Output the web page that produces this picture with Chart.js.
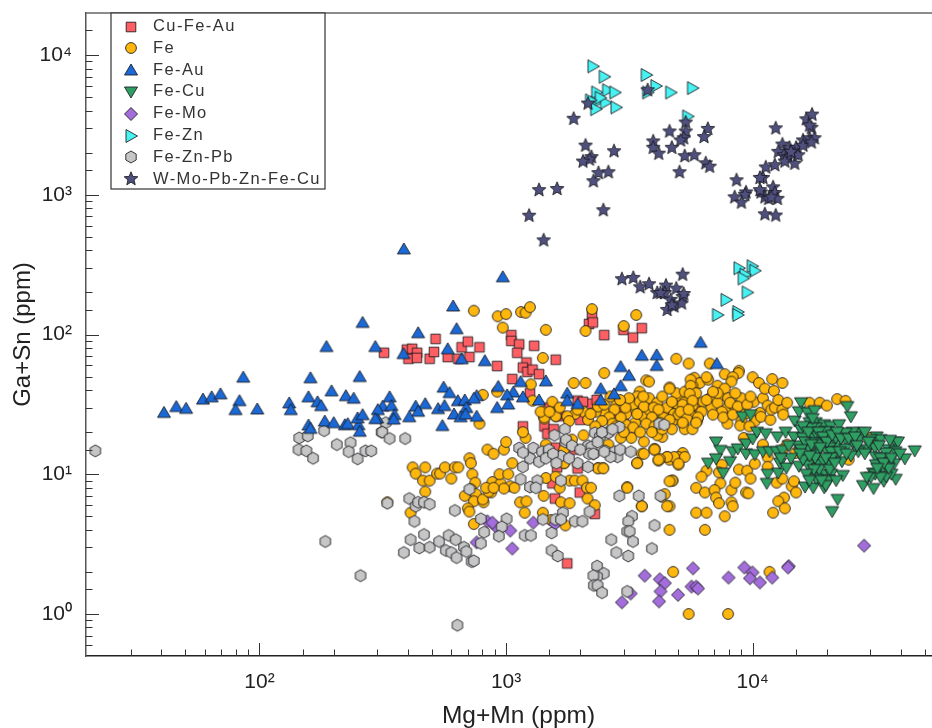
<!DOCTYPE html>
<html>
<head>
<meta charset="utf-8">
<title>Ga+Sn vs Mg+Mn</title>
<script src="https://cdn.jsdelivr.net/npm/chart.js@4"></script>
<style>
html, body { margin: 0; padding: 0; background: #fff; width: 932px; height: 728px; overflow: hidden; }
#wrap { width: 932px; height: 728px; overflow: hidden; }
canvas { display: block; filter: blur(0.3px); }
</style>
</head>
<body>
<div id="wrap"><canvas id="chart" width="956" height="728"></canvas></div>
<script>
// Values, [Mg+Mn, Ga+Sn] in ppm
const cuFeAu = [[320,74],[396,78],[416,79],[436,74],[402,67],[435,68],[490,67],[510,75],[518,93],[580,69],[640,67],[710,69],[660,81],[700,89],[780,81],[920,59.5],[1050,99],[1050,90],[1130,85],[1110,74],[1300,83],[1210,63],[1590,66],[1170,58],[1220,54],[1280,56],[1360,52],[1060,48],[1250,38],[2230,137],[2170,119],[2250,122],[2500,99],[2990,108],[3270,95],[3550,111],[1490,30],[1950,33.6],[2200,32],[2330,34],[2050,33],[1420,27],[1600,27],[1670,26],[1170,22],[1430,22],[1470,19.5],[2000,24.5],[2830,29],[2950,26],[1890,15],[1610,11.2],[1950,11],[1580,15.5],[1540,8.6],[1990,7.4],[1580,6.7],[2290,5.2],[1770,2.3],[1560,21],[2860,27.5],[3000,25.5],[1620,27]];

const fe = [[740,148],[925,135],[1000,140],[1150,145],[1200,143],[1250,157],[970,112],[1450,108],[1410,68],[1260,44],[805,37],[920,39],[780,23],[2230,152],[2100,106],[3370,138],[3000,115],[2500,53],[1880,45],[2100,45],[1540,33],[1280,33.6],[1410,28],[1430,25],[1590,26],
[3700,47],[3800,46],[4600,41.8],[4900,67],[5500,62],[6700,62],[5800,49],[6100,45],[5700,43],[5600,38],[6600,47.5],[3480,39],[3400,36],[3800,35],[4100,32.5],[4730,32.5],[5100,35],[5300,33],[5800,37],[3200,32],[2800,31.5],[2500,28],[3340,29],[3070,27],[3620,25.8],[3970,28],[4350,28.5],[5000,30.5],[5500,29],[6100,28],[6000,25.5],[4800,24.5],[5200,23],[4100,26.7],[4500,27],[4350,25.5],[3920,23.8],[3340,23.4],[3060,22.6],[3280,21.6],[3620,17.1],[3220,18.2],[2915,18.2],[4000,15.2],[4300,18.5],[4100,19],[3550,14],[3400,12],[4150,12.5],[4500,13.3],[4600,12.7],[5000,11.7],[5200,14.2],[5000,13.3],[4730,9],[2360,11.1],[2470,11.1],[3100,8.1],
[2310,28],[2060,28],[1900,27],[1770,26],[1590,26],[1430,25.5],[1380,28],[2150,24.5],[2060,19],[2600,16.3],[1850,17.7],[1720,15],[1200,18.2],[1170,20],[1720,12],[1450,16.3],[2915,25.5],[2750,29],[3280,31.5],[3480,33],[3800,29],[3050,30],[3620,30.5],[2620,25.5],[2360,30.5],[2500,31.5],[3970,30],[4500,30],[4800,27],[5000,26.7],[5600,26.7],[5800,31.5],[5950,24],[5200,31.5],[4600,24.5],[4150,29],[3900,25.5],[4200,23.4],
[2650,36],[3150,35],[3600,36],[4300,36],[4900,38],[5300,39],[2900,34],[3400,27],[3700,23],[4000,22],[4700,21],[5300,21],[5700,21],[2700,23],[2450,24],[2200,27],[1950,29],[1650,30],[1500,28],[1800,24],[2300,22],[2600,20],[2800,22],[3000,20],[3500,20],[3900,20],[4300,21],[5100,28],[5400,25],[5700,31],[6300,33],[6700,35],[7000,36],[7500,37],[7900,30],[8400,31],[9000,35],[9300,27],[10100,33],[11000,35],[11500,31],[10200,24],[9000,24],[7900,23],[6800,30],
[8800,55],[8750,53],[7700,52],[10000,49.5],[10600,45],[12000,48],[13200,45],[11200,41],[12200,39.5],[8300,49.5],[8200,46],[7200,43],[7700,41],[6500,49.5],[5600,47.5],[4600,41],[5600,43],[5900,38],[5550,37.6],[5700,33.6],[4700,33],[5500,29],[6200,28],[6000,25.5],[5900,23.4],[5200,23.4],[6500,34],[7200,32.5],[7950,35],[8500,38],[7200,38],[6900,39],[8100,32.5],[8700,30.5],[7500,28],[6900,26.7],[7600,25.5],[8300,26.7],[8900,22.3],[9700,22],[9500,31.5],[9800,36],[10700,27.5],[10800,25.8],[11800,24.5],[11900,29],[12300,30],[13200,29],[12700,34],[13800,32.5],[13300,26.7],[17000,32.5],[18700,32.5],[20000,31],[22000,34.5],[23800,33.5],
[9200,18.2],[11000,16.3],[13800,16.3],[14900,14.2],[13200,15],[11500,13.2],[11500,11.3],[17800,13.8],[18100,12],[30000,18.2],[24500,12.7],[8800,10.8],[9500,10.6],[10200,11.9],[9800,9.3],[7500,11.7],[6500,10.6],[6200,9.6],[7300,10.3],[5900,8],[6400,7.4],[7400,8.6],[7000,7.7],[7100,6.8],[7300,6.2],[8200,7.7],[8500,8.7],[8200,6.3],[8300,5.9],[9400,7.4],[9600,7.3],[7700,5],[5900,5.3],[6500,5.3],[4720,9],[4600,5.9],[4600,4],[6400,4],[3550,5.9],[4300,6.9],[4000,15],[12500,8.7],[13200,9.3],[14400,8.2],[15000,7.4],[14700,8.9],[13400,6.8],[12700,6.4],[12100,5.3],[13500,5.7],[5300,13.3],[4800,13.3],[5000,11.9],[4500,13.3],[4200,12.9],
[418,11.2],[430,10.1],[470,11.2],[460,9],[490,9],[525,10.1],[540,10.1],[565,11.2],[600,9.3],[620,11.2],[640,11.2],[470,7.5],[410,5.3],[330,6.3],[710,13],[720,12],[840,15],[890,14],[980,15],[1000,17],[1060,12],[730,10],[750,8.7],[680,7],[720,7.8],[755,7.2],[740,6.4],[700,5.7],[710,5.4],[810,6.3],[805,6.6],[870,7.4],[850,7.5],[880,8.8],[950,8.6],[940,10],[1020,10],[1040,8.2],[1080,8],[980,7.9],[830,8],[890,8],[740,4.4],[1140,6.3],[1210,6.4],[1190,5.3],[1420,7],[1410,5.3],[1520,4.7],[1600,4.6],[1740,4.3],[1450,9.4],[1590,9.6],[1650,8],[1670,6.3],[1810,6.2],[1810,9],[1900,9],[2040,9],[2130,8],[2210,8],[2140,6.7],[2290,6],[2360,11],[2480,11],[1720,12],[3400,12],[3100,8],[3550,5.9],[3620,14],[4600,8.9],[4500,5.9],[4400,7.2],[4000,15],[4150,12.7],[4760,2],[5500,1],[7950,1],[11700,2]];

const feAu = [[41,27.7],[46,30.5],[50.4,29.6],[59,34.5],[64,35.8],[69.5,37.6],[86,49.5],[83,33.6],[80,29],[98,29.3],[132,32.4],[134,29],[158,35.8],[161,49],[158,22.5],[161,21.3],[172,33],[178,31],[187,82],[196,39.5],[184,24],[200,23.4],[224,36.5],[241,35],[222,22.6],[228,23],[252,22.6],[255,20.3],[255,50],[262,122],[295,82],[250,25.3],[262,26.7],[300,25.3],[385,410],[970,259],[610,160],[440,103],[630,110],[384,73],[580,79],[660,67],[820,65],[930,42.5],[1145,46],[1450,46.6],[1070,38.8],[1010,37],[1170,35.8],[1020,31.8],[920,30],[337,35.8],[316,30.7],[343,31],[302,29],[295,25],[353,26.7],[350,24.8],[558,42],[590,38.4],[638,33.6],[680,34],[760,36.5],[740,35],[470,32],[430,30.7],[440,28.2],[405,25.8],[530,29.5],[563,31],[690,30],[615,27],[654,25.8],[685,27],[760,26],[552,22.3],[3550,71],[2915,59],[3150,51],[2915,43],[2420,41],[2740,37.6],[2420,34],[1950,32],[1770,38],[1770,33.6],[1360,34],[4080,71.5],[4080,60],[7150,62],[6150,88]];

const feCu = [[7100,17],[7400,14.8],[6600,12],[7100,12.9],[8100,12.3],[8300,14.5],[7600,10.2],[8700,15.2],[9400,14],[9400,16.5],[10000,17.9],[10400,20],[11300,19.5],[10200,13.8],[11000,14.5],[11700,14.5],[12500,14.5],[13200,14.8],[12600,18.5],[13600,20],[11500,10],[11400,8.6],[12700,10.2],[12900,12],[13700,11.1],[14800,24],[15700,32.5],[15400,28],[16700,27.5],[17800,28.5],[24200,30.5],[25000,25.8],[9100,25.8],[9800,26.7],
[14700,18.5],[15700,20.8],[17000,23.4],[18000,23.4],[19500,22.6],[20700,22],[22400,22.6],[20300,20],[17500,18.5],[15200,16],[16000,18.2],[18900,17.7],[20500,18.2],[23800,17.7],[22000,16.3],[17000,15],[18300,15.5],[20500,15.5],[23800,15.2],[16300,13.3],[17400,12.7],[18500,11.9],[20200,11.7],[21800,13.3],[15400,11.4],[16700,11.7],[18200,13.8],[16000,12.7],[18000,9.6],[19400,10],[20800,10],[23200,9.8],[20400,9.1],[16300,8.1],[17600,8],[19500,8],[22100,6.6],[21000,5.4],[18100,9.3],[19800,8.3],
[27400,19.8],[31800,18.5],[25800,16.3],[27000,17.7],[30000,15.8],[33000,17.7],[37800,17],[38800,17],[45400,14.7],[41400,12.9],[29000,15],[26800,14.5],[25000,13.5],[31300,15.5],[35500,15],[37900,14.5],[31500,13.3],[35800,12.3],[37500,11.9],[35300,11.3],[31600,11.7],[33600,10.8],[30800,10.2],[31400,10],[34000,8.9],[38000,9.2],[30100,9.5],[28000,8.3],[30900,7.9],[36500,10],[34800,9.6],
[18000,19.7],[16300,17],[18000,16.8],[20000,14.5],[20800,14.5],[19000,16.3],[17300,16.3],[15700,15],[23000,12.3],[19400,12.3],[17900,13.1],[20900,13.1],[25400,20],[30000,17.7],[34800,14.2],[35600,11],[33000,9.5],[29000,9.5],[18000,21.5],[19700,20.2],[17300,21.5],[21700,18.2],[18600,10.8],[20500,10.8],[17700,10.8],[23800,19.7],
[16000,22],[16800,20],[17500,25],[18500,20],[19300,18.5],[20000,17],[21000,19],[22000,20],[22800,18],[24500,18],[26000,18.5],[28500,20],[29500,17],[17000,13.5],[18800,15.5],[19800,13],[21500,12],[22500,14.5],[24000,14],[15500,14],[14300,13],[14000,16],[13000,13],[16500,10],[17000,9],[19000,9],[21800,9],[26500,16],[28500,14],[33000,13],[34000,12],[36500,13],[32500,16],[39500,14],[36000,17.5],[32000,11]];

const feMo = [[3650,1.88],[4200,1.77],[4400,1.66],[4230,1.45],[4170,1.23],[4980,1.37],[5730,2.12],[5650,1.57],[5900,1.57],[6000,1.52],[2950,1.21],[3200,1.4],[7980,1.82],[9250,2.15],[9980,1.98],[9750,1.8],[10700,1.68],[12000,1.82],[14000,2.2],[13900,2.15],[28300,3.08],[840,4.6],[910,4.2],[1040,3.95],[1290,4.5],[1060,2.94],[760,3.25],[1580,4.4],[880,4.5]];

const feZn = [[2250,8300],[2500,7000],[3700,7200],[4050,6000],[4650,5400],[5700,5800],[2330,5400],[2580,5600],[2760,5400],[2310,4570],[2530,4570],[2310,4100],[2790,4220],[2410,4950],[2200,4740],[3750,5400],[5450,3640],[8800,298],[9950,308],[10200,286],[9300,268],[9150,252],[9500,200],[7800,177],[8700,145],[8700,138],[7200,138]];

const feZnPb = [[21.6,14.7],[145,18.2],[157,18.8],[183,20.5],[144,15],[155,14.7],[165,13],[206,16.3],[234,16.8],[230,14.5],[250,12.9],[269,14.7],[284,14.7],[313,20],[185,3.3],[257,1.88],[325,23.4],[315,20],[337,18],[390,18],[330,6.2],[405,6.7],[430,5.9],[440,6.3],[465,6.3],[490,6.1],[425,4.6],[620,5.5],[465,3.7],[410,3.4],[385,2.75],[445,2.97],[490,3],[535,3.3],[585,3.65],[625,3.4],[570,2.85],[600,2.75],[630,2.53],[675,3],[690,2.8],[725,2.37],[740,2.4],[790,4.8],[815,3.85],[790,3.2],[710,7.8],[1005,4.8],[960,4.2],[935,3.6],[1190,3.65],[1260,3.65],[1530,3.8],[1410,4.75],[1585,4.75],[1700,5.3],[1670,4.75],[1900,4.6],[2040,4.6],[2180,5.4],[1530,2.85],[1620,2.6],
[1145,9.2],[1170,11.3],[1250,13],[1360,12.3],[1130,15.4],[1290,15.4],[1170,14.3],[1400,14.5],[1490,14.7],[1340,9],[1250,8.1],[1320,8],[1670,13.5],[1670,9],[1950,12],[2150,11.3],[2150,16],[2260,14],[2530,14.7],[2750,14.5],[2830,13.3],[2900,15],[2650,13.3],[3200,14.5],[1740,17],
[2880,7],[3450,7],[4230,7],[3240,5],[3130,4.6],[3100,3.9],[3170,3.9],[3270,3.3],[2670,3.4],[2800,2.75],[3130,2.6],[4000,4.3],[3900,2.94],[2340,2.2],[2490,1.95],[2340,1.85],[2260,1.88],[2270,1.6],[2350,1.6],[2450,1.42],[3100,1.45],[635,0.83],
[1730,21],[1570,19],[1750,17.7],[2290,19.8],[2400,18.6],[2600,19.8],[2880,21.8],[2220,15.7],[2170,14],[2260,14],[1490,15],[2500,14.5],[4180,23],[4380,22.6],[1450,13],[1550,14],[1600,12],[1800,13],[1850,16],[2000,15],[2350,17],[2450,20],[2700,21]];

const wMoPb = [[2150,4500],[1880,3500],[2100,2250],[2220,1860],[2180,1790],[2050,1730],[2740,2050],[2370,1430],[2600,1450],[2260,1250],[1610,1100],[1360,1080],[1240,708],[2480,775],[1420,472],[3750,5600],[5350,3290],[4600,2840],[5350,2840],[5250,2540],[5100,2450],[3950,2410],[3950,2170],[4160,1970],[4700,2170],[5300,1890],[5800,1920],[6580,2960],[6350,2590],[6450,1680],[6690,1590],[5050,1450],[8600,1270],[8450,960],[9400,1040],[9300,1000],[9000,880],[11200,725],[12400,710],[11000,1320],[10700,1320],[11300,1570],[12300,1630],[12400,2990],
[10800,1040],[11200,960],[11600,935],[12100,1130],[12300,1030],[12600,935],[10700,1080],[11900,960],[13200,2290],[12700,2030],[13400,1920],[13900,1860],[13500,1730],[14800,1670],[14100,2170],[15000,2170],[14800,1970],[15300,1920],[14300,2030],[16000,2450],[16000,2250],[17000,2540],[17800,2540],[17300,2370],[16500,3470],[17400,3750],[17300,3020],[17000,3130],
[2950,249],[3280,254],[3500,218],[3800,229],[4450,224],[5200,268],[4100,198],[4400,198],[4900,213],[4650,177],[5200,186],[4800,159],[4500,150],[5150,167],[5250,195],[4700,162],[4230,198]];

const seriesNames = ['Cu-Fe-Au', 'Fe', 'Fe-Au', 'Fe-Cu', 'Fe-Mo', 'Fe-Zn', 'Fe-Zn-Pb', 'W-Mo-Pb-Zn-Fe-Cu'];
const seriesData = [cuFeAu, fe, feAu, feCu, feMo, feZn, feZnPb, wMoPb];
const seriesColors = ['#ff5f62', '#ffb70d', '#1a69d6', '#2f9e63', '#a36ddc', '#47f2f2', '#c6c6c6', '#50507f'];
const seriesShapes = ['square', 'circle', 'triUp', 'triDown', 'diamond', 'triRight', 'hexagon', 'star'];
// lower order is painted later, so it sits on top
const seriesOrder = [8, 7, 3, 2, 6, 1, 4, 0];

const xTicks = [100, 1000, 10000];
const xTickLabels = ['10²', '10³', '10⁴'];
const yTicks = [1, 10, 100, 1000, 10000];
const yTickLabels = ['10⁰', '10¹', '10²', '10³', '10⁴'];

function polygon(n, r, startDeg) {
    const pts = [];
    for (let i = 0; i < n; i++) {
        const a = (startDeg + i * 360 / n) * Math.PI / 180;
        pts.push([r * Math.cos(a), r * Math.sin(a)]);
    }
    return pts;
}

function starPoints(outer, inner) {
    const pts = [];
    for (let i = 0; i < 10; i++) {
        const a = (-90 + i * 36) * Math.PI / 180;
        const r = i % 2 ? inner : outer;
        pts.push([r * Math.cos(a), r * Math.sin(a)]);
    }
    return pts;
}

const shapePaths = {
    square: [[-4.8, -4.8], [4.8, -4.8], [4.8, 4.8], [-4.8, 4.8]],
    triUp: [[0, -6], [6.5, 5], [-6.5, 5]],
    triDown: [[-6.5, -5], [6.5, -5], [0, 6]],
    diamond: polygon(4, 6.5, 0),
    triRight: [[-5, -6.5], [6.5, 0], [-5, 6.5]],
    hexagon: polygon(6, 6, -90),
    star: starPoints(7.2, 3.2)
};

// The library's star is an asterisk, so every marker is drawn on its own small canvas
function makeMarker(shape, color) {
    const c = document.createElement('canvas');
    c.width = 18;
    c.height = 18;
    const ctx = c.getContext('2d');
    ctx.translate(9, 9);
    ctx.beginPath();
    if (shape === 'circle') {
        ctx.arc(0, 0, 5.4, 0, Math.PI * 2);
    } else {
        shapePaths[shape].forEach((p, i) => i ? ctx.lineTo(p[0], p[1]) : ctx.moveTo(p[0], p[1]));
        ctx.closePath();
    }
    ctx.fillStyle = color;
    ctx.fill();
    ctx.lineWidth = 1;
    ctx.strokeStyle = 'rgba(25,25,30,0.85)';
    ctx.stroke();
    return c;
}

const markers = seriesNames.map((n, i) => makeMarker(seriesShapes[i], seriesColors[i]));

// drop the room the scales keep for their end labels, the plot area is set by hand
function fixScale(s, size) {
    if (s.isHorizontal()) s.height = size; else s.width = size;
    s.paddingTop = 0;
    s.paddingBottom = 0;
    s.paddingLeft = 0;
    s.paddingRight = 0;
}

const frameAndLegend = {
    id: 'frameAndLegend',
    afterDraw(chart) {
        const ctx = chart.ctx;
        const area = chart.chartArea;
        const xScale = chart.scales.x;
        const yScale = chart.scales.y;

        // inward ticks, long ones at the decades
        ctx.save();
        ctx.strokeStyle = '#333';
        ctx.lineWidth = 1;
        xScale.ticks.forEach(t => {
            if (t.value <= xScale.min || t.value >= xScale.max) return;
            const len = xTicks.includes(t.value) ? 13 : 6.5;
            const x = Math.round(xScale.getPixelForValue(t.value)) + 0.5;
            ctx.beginPath();
            ctx.moveTo(x, area.bottom);
            ctx.lineTo(x, area.bottom - len);
            ctx.stroke();
        });
        yScale.ticks.forEach(t => {
            if (t.value <= yScale.min || t.value >= yScale.max) return;
            const len = yTicks.includes(t.value) ? 13 : 6.5;
            const y = Math.round(yScale.getPixelForValue(t.value)) + 0.5;
            ctx.beginPath();
            ctx.moveTo(area.left, y);
            ctx.lineTo(area.left + len, y);
            ctx.stroke();
        });

        // top rule
        ctx.strokeStyle = '#666';
        ctx.lineWidth = 1.5;
        ctx.beginPath();
        ctx.moveTo(area.left, area.top);
        ctx.lineTo(area.right, area.top);
        ctx.stroke();

        // legend box
        ctx.fillStyle = '#fff';
        ctx.fillRect(111, 13, 214, 176);
        ctx.strokeStyle = '#333';
        ctx.lineWidth = 1.2;
        ctx.strokeRect(111, 13, 214, 176);
        ctx.font = '16.5px "Liberation Sans", Arial, sans-serif';
        ctx.fillStyle = '#333';
        ctx.textAlign = 'left';
        ctx.textBaseline = 'middle';
        ctx.letterSpacing = '1.4px';
        chart.data.datasets.forEach((ds, i) => {
            const y = 26.5 + i * 21.8;
            ctx.drawImage(markers[i], 131 - 9, Math.round(y) - 9);
            ctx.fillText(ds.label, 153, y);
        });
        ctx.restore();
    }
};

new Chart(document.getElementById('chart').getContext('2d'), {
    type: 'scatter',
    data: {
        datasets: seriesNames.map((name, i) => ({
            label: name,
            data: seriesData[i].map(p => ({ x: p[0], y: p[1] })),
            order: seriesOrder[i],
            pointStyle: markers[i],
            pointRadius: 5,
            borderWidth: 0,
            backgroundColor: seriesColors[i]
        }))
    },
    plugins: [frameAndLegend],
    options: {
        responsive: false,
        animation: false,
        layout: { padding: { top: 13, right: 0, left: 0, bottom: 0 } },
        plugins: { legend: { display: false }, tooltip: { enabled: false } },
        scales: {
            x: {
                type: 'logarithmic',
                min: 19.8,
                max: 63700,
                afterFit: s => fixScale(s, 72),
                grid: { display: false, drawTicks: false },
                border: { display: true, color: '#222', width: 1.5 },
                ticks: {
                    autoSkip: false,
                    maxRotation: 0,
                    padding: 14,
                    color: '#222',
                    font: { family: '"Liberation Sans", Arial, sans-serif', size: 21 },
                    callback: v => {
                        const i = xTicks.indexOf(v);
                        return i >= 0 ? xTickLabels[i] : '';
                    }
                },
                title: {
                    display: true,
                    text: 'Mg+Mn (ppm)',
                    color: '#222',
                    font: { family: '"Liberation Sans", Arial, sans-serif', size: 24.5 },
                    padding: { top: 4, bottom: -3 }
                }
            },
            y: {
                type: 'logarithmic',
                min: 0.5,
                max: 20000,
                afterFit: s => fixScale(s, 86),
                grid: { display: false, drawTicks: false },
                border: { display: true, color: '#555', width: 1.5 },
                ticks: {
                    autoSkip: false,
                    padding: 14,
                    color: '#222',
                    font: { family: '"Liberation Sans", Arial, sans-serif', size: 21 },
                    callback: v => {
                        const i = yTicks.indexOf(v);
                        return i >= 0 ? yTickLabels[i] : '';
                    }
                },
                title: {
                    display: true,
                    text: 'Ga+Sn (ppm)',
                    color: '#222',
                    font: { family: '"Liberation Sans", Arial, sans-serif', size: 24 },
                    padding: { top: 9, bottom: 0 }
                }
            }
        }
    }
});
</script>
</body>
</html>
